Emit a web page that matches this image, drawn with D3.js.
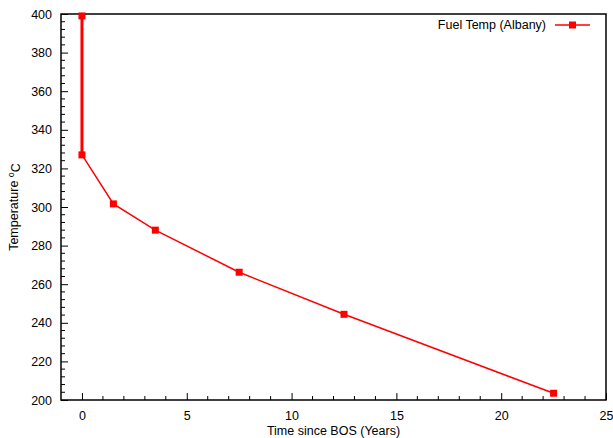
<!DOCTYPE html>
<html>
<head>
<meta charset="utf-8">
<script src="https://cdn.jsdelivr.net/npm/d3@7"></script>
<style>
  body { margin: 0; background: #fff; }
  text { font-family: "Liberation Sans", Arial, sans-serif; fill: #000; }
</style>
</head>
<body>
<div class="chart"></div>
<script>
var svgWidth = 613;
var svgHeight = 438;

var margin = { top: 14, right: 7, bottom: 38, left: 61 };
var width = svgWidth - margin.left - margin.right;
var height = svgHeight - margin.top - margin.bottom;

// data
var years = [0, 0, 1.5, 3.5, 7.5, 12.5, 22.5];
var fuelTemp = [399, 327, 301.6, 288, 266.2, 244.4, 203.5];
var seriesName = "Fuel Temp (Albany)";
var xTicks = [0, 5, 10, 15, 20, 25];
var yTicks = [200, 220, 240, 260, 280, 300, 320, 340, 360, 380, 400];

var data = years.map(function(d, i) { return { x: d, y: fuelTemp[i] }; });

var svg = d3.select(".chart")
  .append("svg")
  .attr("width", svgWidth)
  .attr("height", svgHeight)
  .append("g")
  .attr("transform", "translate(" + margin.left + "," + margin.top + ")");

var xScale = d3.scaleLinear().domain([-1, 25]).range([0, width]);
var yScale = d3.scaleLinear().domain([200, 400]).range([height, 0]);

// minor ticks first, inward
var xMinor = d3.range(0, 25, 1).filter(function(v) { return v % 5 !== 0; });
var yMinor = d3.range(200, 400, 4).filter(function(v) { return v % 20 !== 0; });

svg.selectAll(".xminor")
  .data(xMinor).enter().append("line")
  .attr("x1", function(d) { return xScale(d); })
  .attr("x2", function(d) { return xScale(d); })
  .attr("y1", height).attr("y2", height - 4)
  .attr("stroke", "#000");

svg.selectAll(".yminor")
  .data(yMinor).enter().append("line")
  .attr("x1", 0).attr("x2", 4)
  .attr("y1", function(d) { return yScale(d); })
  .attr("y2", function(d) { return yScale(d); })
  .attr("stroke", "#000");

// major axes
var bottomAxis = d3.axisBottom(xScale).tickValues(xTicks).tickSizeInner(-7).tickSizeOuter(0).tickPadding(11);
var leftAxis = d3.axisLeft(yScale).tickValues(yTicks).tickSizeInner(-7).tickSizeOuter(0).tickPadding(9);

var gx = svg.append("g")
  .attr("transform", "translate(0," + height + ")")
  .call(bottomAxis);
gx.select(".domain").remove();
gx.selectAll("text").style("font-size", "12.5px").attr("font-family", null);

var gy = svg.append("g").call(leftAxis);
gy.select(".domain").remove();
gy.selectAll("text").style("font-size", "12.5px").attr("font-family", null);

// frame
svg.append("rect")
  .attr("width", width).attr("height", height)
  .attr("fill", "none").attr("stroke", "#000").attr("stroke-width", 1.5);

// series
var line = d3.line()
  .x(function(d) { return xScale(d.x); })
  .y(function(d) { return yScale(d.y); });

svg.append("path")
  .datum(data)
  .attr("d", line)
  .attr("fill", "none")
  .attr("stroke", "#ff0000")
  .attr("stroke-width", 1.5);

// the vertical drop at t=0 looks heavier
svg.append("path")
  .datum(data.slice(0, 2))
  .attr("d", line)
  .attr("fill", "none")
  .attr("stroke", "#ff0000")
  .attr("stroke-width", 3);

svg.selectAll(".pt")
  .data(data).enter().append("rect")
  .attr("x", function(d) { return xScale(d.x) - 3.5; })
  .attr("y", function(d) { return yScale(d.y) - 3.5; })
  .attr("width", 7).attr("height", 7)
  .attr("fill", "#ff0000");

// legend
var legend = svg.append("g").attr("transform", "translate(" + (width - 51) + ",11)");
legend.append("text")
  .attr("x", -9).attr("y", 0).attr("dy", "0.35em")
  .attr("text-anchor", "end")
  .style("font-size", "12.5px")
  .text(seriesName);
legend.append("line")
  .attr("x1", 0).attr("x2", 35).attr("y1", 0).attr("y2", 0)
  .attr("stroke", "#ff0000").attr("stroke-width", 1.5);
legend.append("rect")
  .attr("x", 14).attr("y", -3.5).attr("width", 7).attr("height", 7)
  .attr("fill", "#ff0000");

// axis titles
svg.append("text")
  .attr("x", width / 2).attr("y", height + 35)
  .attr("text-anchor", "middle")
  .style("font-size", "12.5px")
  .text("Time since BOS (Years)");

var yTitle = svg.append("text")
  .attr("transform", "translate(" + (-43) + "," + (height / 2) + ") rotate(-90)")
  .attr("text-anchor", "middle")
  .style("font-size", "12.5px");
yTitle.append("tspan").text("Temperature ");
yTitle.append("tspan").attr("dy", "-0.45em").style("font-size", "9px").text("o");
yTitle.append("tspan").attr("dy", "0.45em").text("C");
</script>
</body>
</html>
